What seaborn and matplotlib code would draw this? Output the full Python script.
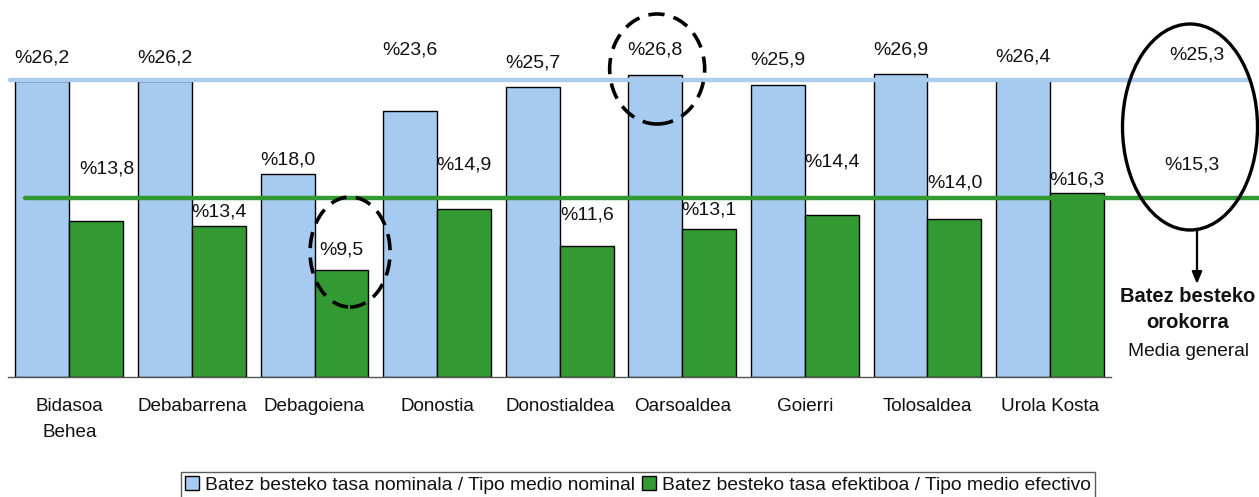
import matplotlib
matplotlib.use("Agg")
import matplotlib.pyplot as plt
from matplotlib.patches import Ellipse, Patch
import seaborn as sns
import pandas as pd

# ---------------- data ----------------
regions = ["Bidasoa\nBehea", "Debabarrena", "Debagoiena", "Donostia", "Donostialdea",
           "Oarsoaldea", "Goierri", "Tolosaldea", "Urola Kosta"]
nominal = [26.2, 26.2, 18.0, 23.6, 25.7, 26.8, 25.9, 26.9, 26.4]
effective = [13.8, 13.4, 9.5, 14.9, 11.6, 13.1, 14.4, 14.0, 16.3]
series_names = ["Batez besteko tasa nominala / Tipo medio nominal",
                "Batez besteko tasa efektiboa / Tipo medio efectivo"]
avg_values = [25.3, 15.3]           # printed general averages
avg_line_levels = [26.3, 15.9]      # where the average lines are drawn in the picture
avg_title = ["Batez besteko", "orokorra"]
avg_subtitle = "Media general"

# label layout (data-unit heights of the value labels, as in the picture)
nominal_label_y = [28.3, 28.3, 19.2, 29.0, 27.8, 29.0, 28.1, 29.0, 28.4]
effective_label_y = [18.4, 14.6, 11.3, 18.8, 14.4, 14.8, 19.1, 17.2, 17.5]

BLUE = "#A6CAF0"
GREEN = "#339933"
LINE_BLUE = "#A9CCEF"
TXT = "#111111"
FS = 14

def fmt(v):
    return "%" + f"{v:.1f}".replace(".", ",")

df = pd.DataFrame({
    "region": regions * 2,
    "value": nominal + effective,
    "serie": [series_names[0]] * len(regions) + [series_names[1]] * len(regions),
})

sns.set_theme(style="white")
plt.rcParams["font.family"] = ["Liberation Sans", "DejaVu Sans"]

W, H = 1259, 497
fig = plt.figure(figsize=(W / 100, H / 100), dpi=100)
x0_px, base_px, cat_px, unit_px = 8, 377, 122.6, 11.28
ax = fig.add_axes([x0_px / W, (H - base_px) / H, (W - x0_px) / W, base_px / H])

sns.barplot(data=df, x="region", y="value", hue="serie", order=regions,
            hue_order=series_names, palette=[BLUE, GREEN], width=0.88,
            edgecolor="black", linewidth=1.0, saturation=1, legend=False, ax=ax,
            errorbar=None, zorder=2)

xmax = -0.5 + (W - x0_px) / cat_px
ymax = base_px / unit_px
ax.set_xlim(-0.5, xmax)
ax.set_ylim(0, ymax)

def px2d(px, py):
    return -0.5 + (px - x0_px) / cat_px, (base_px - py) / unit_px

# spines / ticks
for s in ["top", "right", "left"]:
    ax.spines[s].set_visible(False)
ax.spines["bottom"].set_bounds(-0.5, len(regions) - 0.5)
ax.spines["bottom"].set_color("#555555")
ax.spines["bottom"].set_linewidth(1.0)
ax.set_yticks([])
ax.set_xticks(range(len(regions)))
ax.set_xticklabels(regions, fontsize=13.6, color=TXT, linespacing=1.7)
ax.tick_params(axis="x", which="major", length=0, pad=15)
ax.set_xticks([i - 0.5 for i in range(len(regions) + 1)], minor=True)
ax.tick_params(axis="x", which="minor", length=5, width=1, color="#666666", direction="out")
ax.set_xlabel("")
ax.set_ylabel("")

# average lines
ax.axhline(avg_line_levels[0], xmin=2 / (W - x0_px), xmax=(1250 - x0_px) / (W - x0_px),
           color=LINE_BLUE, lw=3.2, zorder=3)
ax.axhline(avg_line_levels[1], xmin=17 / (W - x0_px), xmax=1.0,
           color=GREEN, lw=3.2, zorder=3)

# value labels
off = 0.22
for i in range(len(regions)):
    ax.text(i - off, nominal_label_y[i], fmt(nominal[i]), ha="center", va="center",
            fontsize=FS, color=TXT, zorder=5)
    ax.text(i + off + (0.09 if i == 0 else 0.0), effective_label_y[i], fmt(effective[i]),
            ha="center", va="center", fontsize=FS, color=TXT, zorder=5)

# dashed highlight circles
hi_nom = nominal.index(max(nominal[:6]))   # Oarsoaldea
lo_eff = effective.index(min(effective))    # Debagoiena
ax.add_patch(Ellipse((hi_nom - off + 0.015, px2d(0, 69)[1]), 95 / cat_px, 110 / unit_px,
                     fill=False, ec="black", lw=2.6, ls=(0, (4.5, 2.6)), zorder=6))
ax.add_patch(Ellipse((lo_eff + off + 0.07, px2d(0, 252)[1]), 80 / cat_px, 110 / unit_px,
                     fill=False, ec="black", lw=2.6, ls=(0, (4.5, 2.6)), zorder=6))

# general average ellipse & labels
cx, cy = px2d(1190, 127)
ax.add_patch(Ellipse((cx, cy), 135 / cat_px, 206 / unit_px, fill=False, ec="black",
                     lw=2.4, zorder=6))
lx1, ly1 = px2d(1197, 55)
lx2, ly2 = px2d(1192, 165)
ax.text(lx1, ly1, fmt(avg_values[0]), ha="center", va="center", fontsize=FS, color=TXT)
ax.text(lx2, ly2, fmt(avg_values[1]), ha="center", va="center", fontsize=FS, color=TXT)
ax_, ay1 = px2d(1197, 230)
_, ay2 = px2d(1197, 284)
ax.annotate("", xy=(ax_, ay2), xytext=(ax_, ay1),
            arrowprops=dict(arrowstyle="-|>,head_length=0.6,head_width=0.25", color="black",
                            lw=1.6, shrinkA=0, shrinkB=0), annotation_clip=False)

tx, ty = px2d(1188, 297)
ax.text(tx, ty, avg_title[0], ha="center", va="center", fontsize=14.5, fontweight="bold",
        color=TXT, clip_on=False)
tx, ty = px2d(1188, 322)
ax.text(tx, ty, avg_title[1], ha="center", va="center", fontsize=14.5, fontweight="bold",
        color=TXT, clip_on=False)
tx, ty = px2d(1189, 352)
ax.text(tx, ty, avg_subtitle, ha="center", va="center", fontsize=13.8, color=TXT,
        clip_on=False)

# legend
handles = [Patch(facecolor=BLUE, edgecolor="black", lw=1.0),
           Patch(facecolor=GREEN, edgecolor="black", lw=1.0)]
leg = fig.legend(handles, series_names, loc="center", ncol=2,
                 bbox_to_anchor=(638 / W, 1 - 485 / H), fontsize=13.9,
                 frameon=True, fancybox=False, edgecolor="#333333",
                 handlelength=0.75, handleheight=0.75, handletextpad=0.3,
                 columnspacing=0.35, borderpad=0.2, borderaxespad=0)
leg.get_frame().set_linewidth(1.0)
for t in leg.get_texts():
    t.set_color(TXT)

fig.savefig("out.png", dpi=100)
